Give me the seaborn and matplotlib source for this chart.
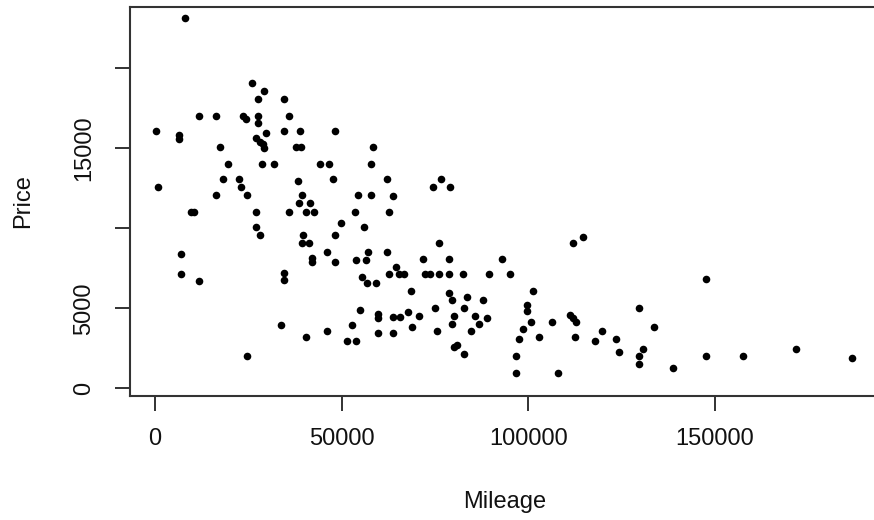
import numpy as np
import pandas as pd
import seaborn as sns
import matplotlib
matplotlib.use("Agg")
import matplotlib.pyplot as plt


# Dados (Mileage x Price)
mileage = [8040, 25900, 29280, 27510, 34640, 11870, 16340, 23490, 24380, 27510,
           27510, 35980, 270, 6350, 6350, 34640, 38840, 48220, 29730, 27060,
           28130, 29010, 29280, 17410, 37690, 39030, 58320, 19640, 28740, 31960,
           44200, 46690, 57780, 800, 18140, 22580, 23120, 38230, 47600, 16340,
           24730, 39300, 54380, 57780, 38660, 41520, 9640, 10450, 27060, 35980,
           40450, 42670, 53580, 49910, 56070, 27060, 28130, 39730, 48220, 39300,
           41250, 6880, 46000, 57140, 42060, 42060, 48220, 53840, 56600, 6880,
           11870, 34640, 34640, 55530, 56790, 59200, 54920, 59820, 59820, 33670,
           52690, 59820, 40450, 46000, 51510, 53840, 24730, 62230, 76690, 74470,
           78940, 63840, 62760, 76160, 111890, 114730, 62230, 71710, 78840, 92950,
           64560, 62760, 65360, 66700, 72410, 73670, 76160, 78840, 82430, 89550,
           95100, 68500, 101180, 78840, 79480, 83500, 87950, 99570, 99570, 75090,
           67850, 82860, 63840, 65630, 70720, 80180, 85720, 89020, 111170, 111970,
           112700, 100720, 106270, 79480, 86790, 68770, 98500, 63840, 75620, 84650,
           119820, 102950, 112510, 97430, 117950, 123490, 124380, 80180, 80820, 82860,
           96710, 96710, 108040, 147600, 129740, 133670, 130810, 129740, 129740, 138680,
           147600, 157600, 171710, 186790]

price = [23125, 19100, 18580, 18060, 18060, 17020, 17020, 17020, 16850, 17020,
         16600, 17020, 16100, 15810, 15600, 16100, 16100, 16100, 15980, 15630,
         15410, 15270, 15040, 15060, 15060, 15060, 15060, 14020, 14020, 14020,
         14020, 14020, 14020, 12580, 13080, 13080, 12580, 12960, 13080, 12060,
         12060, 12060, 12060, 12060, 11560, 11560, 11000, 11000, 11000, 11000,
         11000, 11000, 11000, 10350, 10100, 10100, 9580, 9580, 9580, 9060,
         9060, 8410, 8540, 8540, 8140, 7890, 7890, 8020, 8020, 7130,
         6730, 7210, 6770, 6980, 6600, 6600, 4890, 4660, 4390, 3980,
         3980, 3480, 3210, 3600, 2940, 2940, 2040, 13080, 13080, 12560,
         12560, 12040, 11020, 9060, 9060, 9480, 8540, 8060, 8060, 8060,
         7600, 7130, 7130, 7130, 7130, 7130, 7130, 7130, 7130, 7130,
         7130, 6060, 6060, 5980, 5520, 5690, 5520, 5210, 4830, 5020,
         4770, 5020, 4480, 4480, 4520, 4520, 4520, 4380, 4580, 4390,
         4130, 4130, 4130, 4000, 4000, 3850, 3730, 3480, 3600, 3600,
         3600, 3210, 3210, 3080, 2960, 3080, 2290, 2560, 2690, 2160,
         2020, 980, 980, 6850, 5040, 3850, 2440, 2040, 1520, 1250,
         2040, 2040, 2440, 1910]

x_ticks = [0, 50000, 100000, 150000]
x_labels = ['0', '50000', '100000', '150000']
y_ticks = [0, 5000, 10000, 15000, 20000]
y_labels = ['0', '5000', '', '15000', '']

df = pd.DataFrame({'Mileage': mileage, 'Price': price})


# Estilo parecido com o plot base do R
sns.set_theme(style="white")
plt.rcParams['font.family'] = ['Liberation Sans', 'DejaVu Sans']

fig = plt.figure(figsize=(8.74, 5.2), dpi=100)
ax = fig.add_axes([130 / 874, 124 / 520, 750 / 874, 389 / 520])

sns.scatterplot(x='Mileage', y='Price', data=df, color='black', s=30,
                linewidth=0, ax=ax)

ax.set_xlim(-6700, 194200)
ax.set_ylim(-480, 23830)

ax.set_xticks(x_ticks)
ax.set_xticklabels(x_labels)
ax.set_yticks(y_ticks)
ax.set_yticklabels(y_labels, rotation=90, va='center')

ax.tick_params(axis='both', which='both', direction='out', length=11,
               width=1.3, color='#222222', labelsize=17, labelcolor='#111111',
               bottom=True, left=True)
ax.tick_params(axis='x', pad=12)
ax.tick_params(axis='y', pad=14)

for side in ['left', 'right', 'top', 'bottom']:
    ax.spines[side].set_color('#333333')
    ax.spines[side].set_linewidth(1.5)

ax.set_xlabel('Mileage', fontsize=17, color='#111111')
ax.set_ylabel('Price', fontsize=17, color='#111111')
ax.xaxis.set_label_coords(0.5, -0.245)
ax.yaxis.set_label_coords(-0.128, 0.5)

fig.savefig('out.png', dpi=100)
